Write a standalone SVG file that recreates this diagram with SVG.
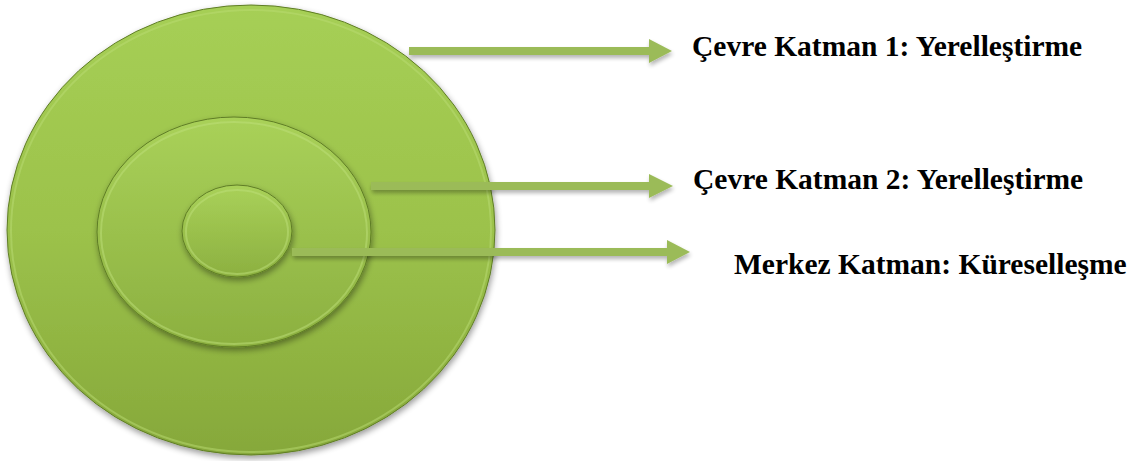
<svg xmlns="http://www.w3.org/2000/svg" width="1139" height="461" viewBox="0 0 1139 461">
<style>
.lbl{font-family:"Liberation Serif","Times New Roman",serif;font-weight:bold;font-size:29.5px;fill:#000}
.conn{stroke:#9bbb59;stroke-width:8;fill:none}
.head{fill:#9bbb59}
.disc{stroke:#5f7d25;stroke-width:1}
</style>
<defs>
<linearGradient id="g" x1="0" y1="0" x2="0" y2="1">
<stop offset="0" stop-color="#a6cf55"/>
<stop offset="0.5" stop-color="#9cc24b"/>
<stop offset="1" stop-color="#86a83a"/>
</linearGradient>
<linearGradient id="gi" x1="0" y1="0" x2="0" y2="1">
<stop offset="0" stop-color="#a9d159"/>
<stop offset="1" stop-color="#8cb040"/>
</linearGradient>
<filter id="sh" x="-10%" y="-10%" width="120%" height="130%">
<feGaussianBlur in="SourceAlpha" stdDeviation="3"/>
<feOffset dx="1" dy="3" result="b"/>
<feComponentTransfer><feFuncA type="linear" slope="0.4"/></feComponentTransfer>
<feMerge><feMergeNode/><feMergeNode in="SourceGraphic"/></feMerge>
</filter>
<filter id="ash" x="-5%" y="-100%" width="110%" height="300%">
<feGaussianBlur in="SourceAlpha" stdDeviation="2"/>
<feOffset dx="1" dy="3"/>
<feComponentTransfer><feFuncA type="linear" slope="0.3"/></feComponentTransfer>
<feMerge><feMergeNode/><feMergeNode in="SourceGraphic"/></feMerge>
</filter>
</defs>
<g id="outer" filter="url(#sh)">
<ellipse cx="251" cy="230" rx="244" ry="225" fill="url(#g)" class="disc"/>
<ellipse cx="251" cy="231" rx="240" ry="221" fill="none" stroke="#b9dc74" stroke-width="2" opacity="0.5"/>
</g>
<g id="middle" filter="url(#sh)">
<ellipse cx="234" cy="232" rx="137" ry="115" fill="url(#gi)" class="disc"/>
<ellipse cx="234" cy="233" rx="133" ry="111" fill="none" stroke="#bddf7a" stroke-width="2" opacity="0.5"/>
</g>
<g id="inner" filter="url(#sh)">
<ellipse cx="237" cy="231" rx="55" ry="46" fill="url(#gi)" class="disc"/>
<ellipse cx="237" cy="232" rx="51" ry="42" fill="none" stroke="#bddf7a" stroke-width="2" opacity="0.5"/>
</g>
<g id="connectors" filter="url(#ash)">
<line class="conn" x1="409" y1="51" x2="650" y2="51"/>
<polygon class="head" points="649,39 672,51 649,63"/>
<line class="conn" x1="371" y1="186" x2="650" y2="186"/>
<polygon class="head" points="649,174 673,186 649,198"/>
<line class="conn" x1="292" y1="252" x2="668" y2="252"/>
<polygon class="head" points="667,240 690,252 667,264"/>
</g>
<g id="label1"><text class="lbl" x="692" y="56">Çevre Katman 1: Yerelleştirme</text></g>
<g id="label2"><text class="lbl" x="693" y="189">Çevre Katman 2: Yerelleştirme</text></g>
<g id="label3"><text class="lbl" x="734" y="274">Merkez Katman: Küreselleşme</text></g>
</svg>
